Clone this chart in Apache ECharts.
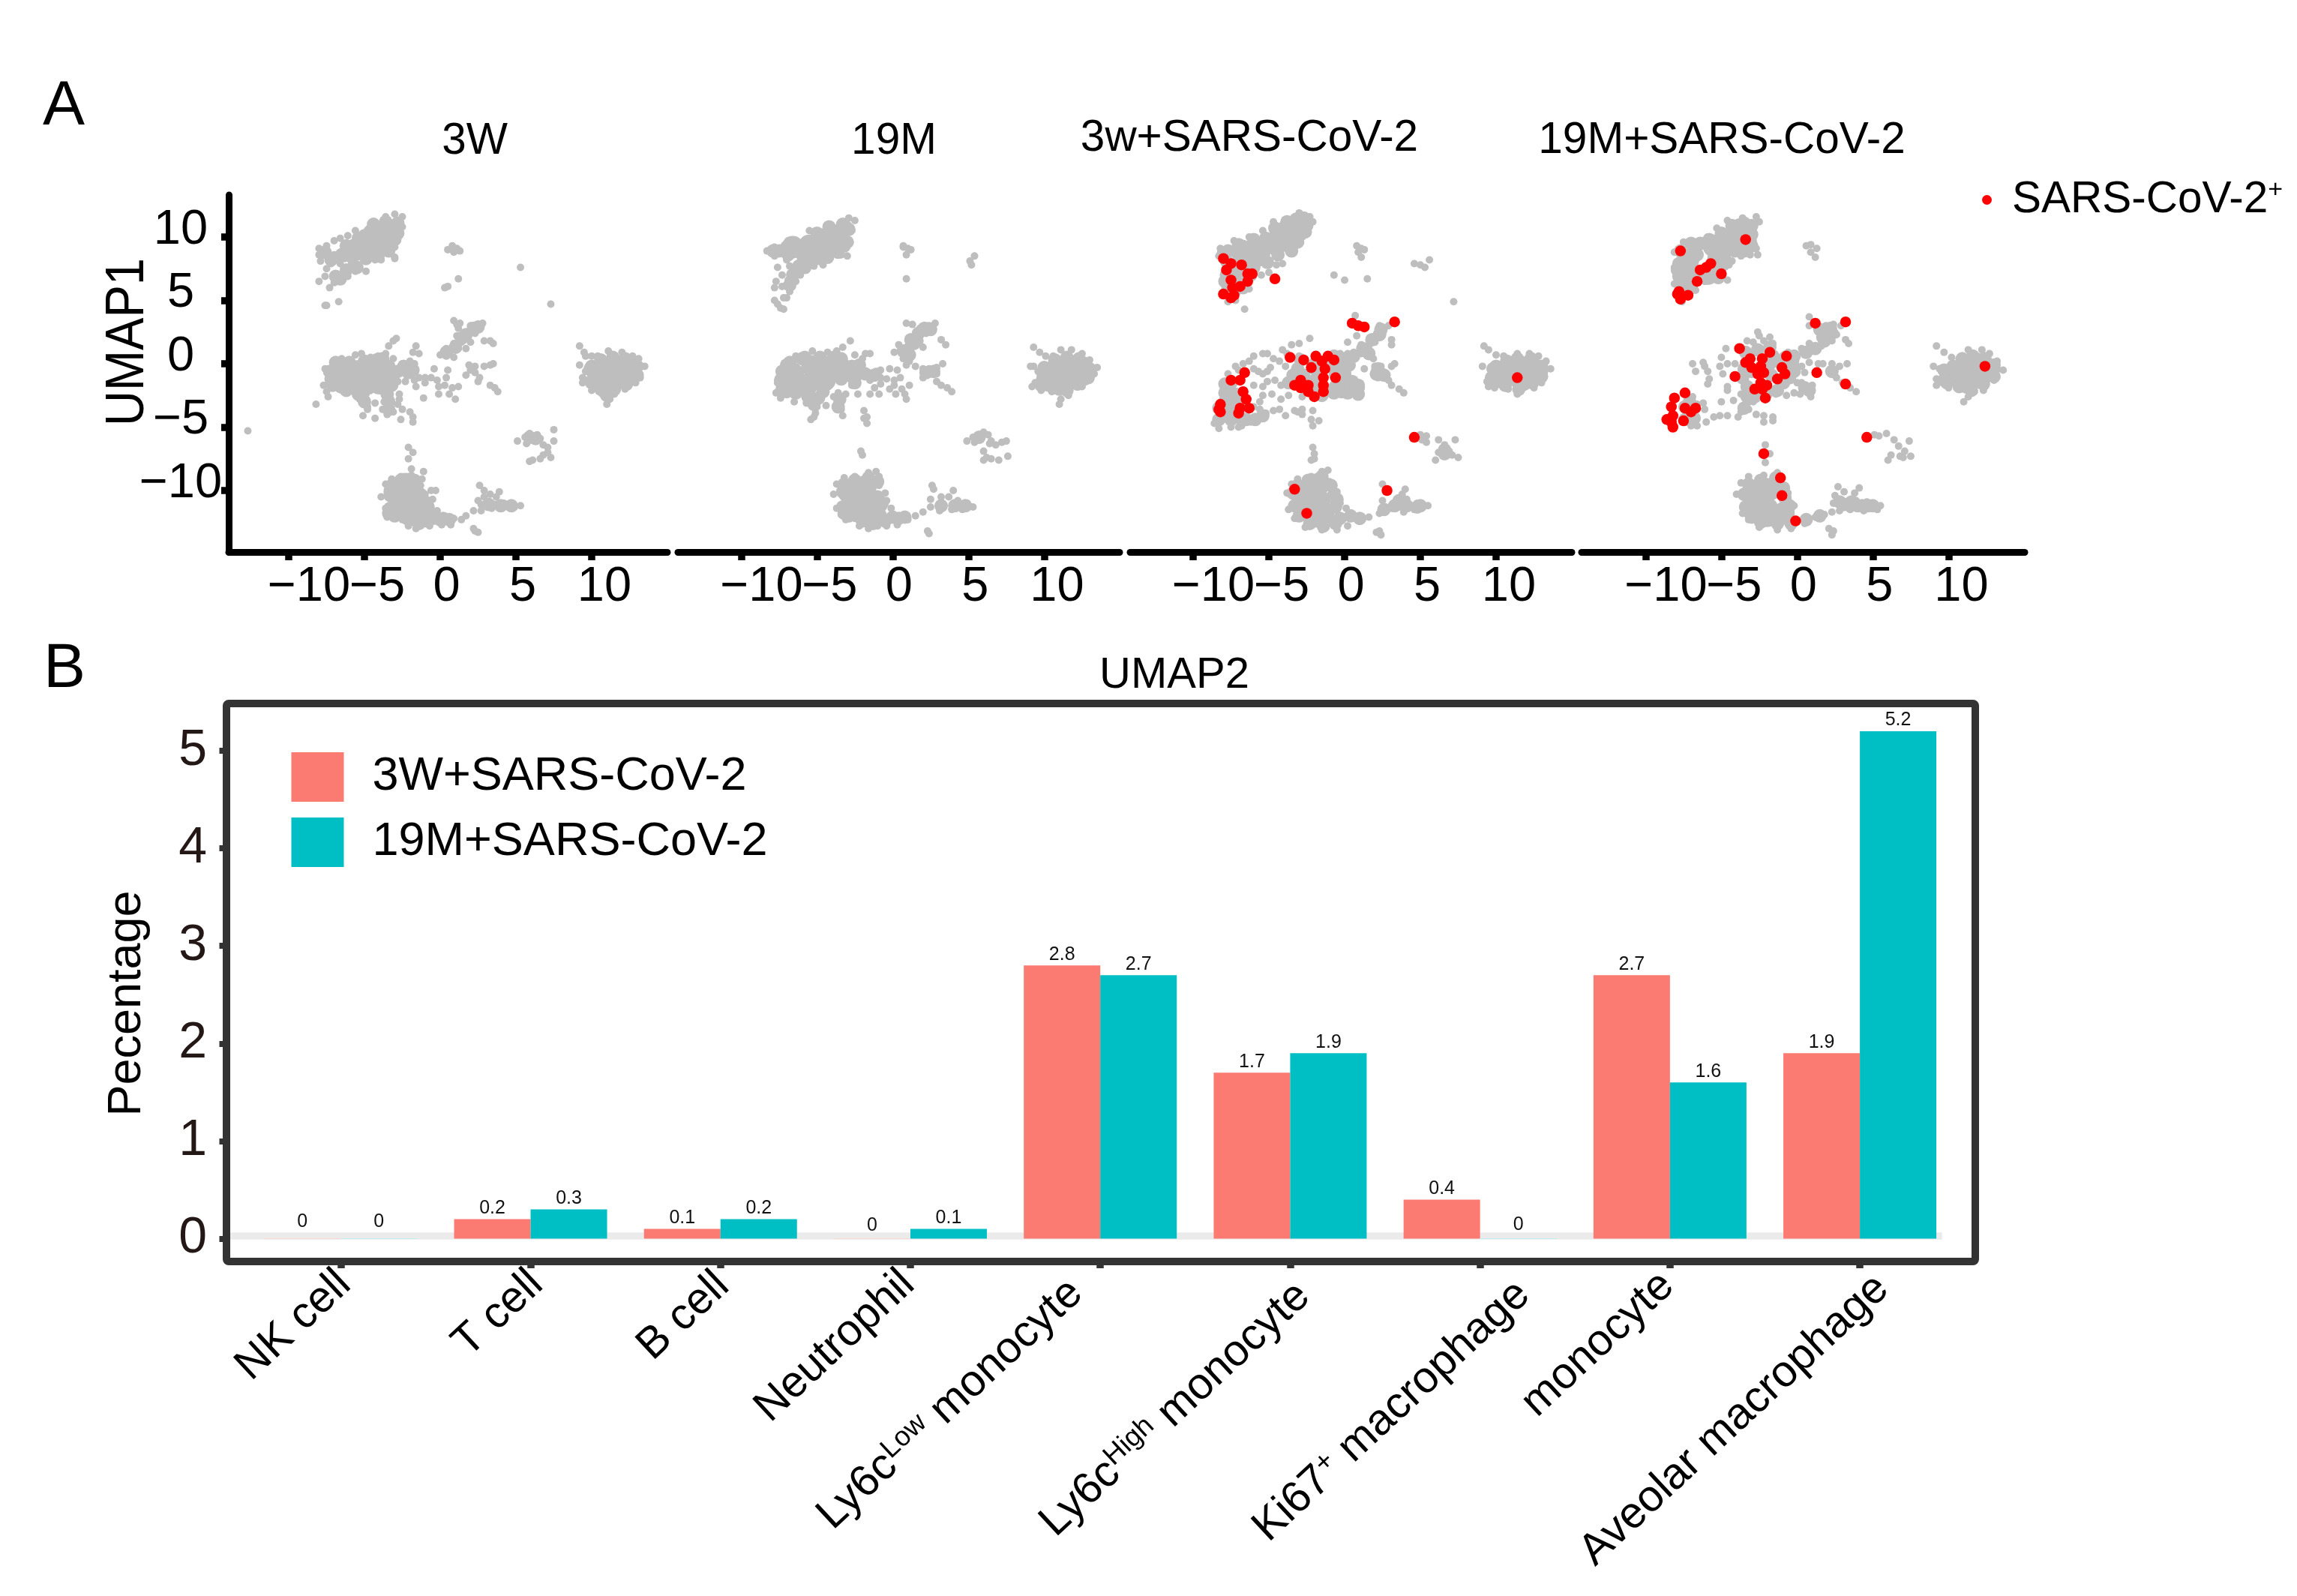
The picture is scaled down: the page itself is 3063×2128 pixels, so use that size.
<!DOCTYPE html>
<html><head><meta charset="utf-8">
<style>html,body{margin:0;padding:0;background:#fff}#c{width:3063px;height:2128px}</style>
<script src="https://cdn.jsdelivr.net/npm/echarts@6/dist/echarts.min.js"></script>
</head><body><div id="c"></div>
<script>
// ---------- UMAP points: [UMAP x, UMAP y] ----------
const p1Core=[[-4.4,10.2],[-3.3,10.5],[-4.8,9.4],[-5.6,9.0],[-4.0,9.3],[-6.7,-.6],[-5.5,-.6],[-4.2,-.4],[-6.4,-1.5],[-5.3,-1.3],[-4.0,-1.1],[10.4,-.7],[11.5,-.2],[12.4,-.2],[11.5,-1.3],[10.6,-1.4],[12.4,-.8],[-3,-10.1],[-1.9,-10.1],[-2.6,-11.4],[-1.6,-11.4],[-2.3,-9.5]];
const p1Mid=[[-2.8,11.1],[-3.2,9.6],[-5.4,9.9],[-6.2,9.3],[-4.9,8.3],[-4.1,8.5],[-5.7,7.7],[1.7,2.3],[-7.1,-.8],[-7.1,-1.7],[-6.2,-2.1],[-5.4,-2.4],[-3.8,.4],[-2.8,-.6],[-2.1,-.7],[-3.7,-1.5],[-3.5,-2.4],[9.9,-.4],[5.9,-5.8],[-1,-12.2],[-.5,-12.2],[-1.7,-12.3],[.2,-12.2],[-3.4,-11.8],[-.8,-11.3],
[-7.6,8.8],[-6.5,8.6],[-5.8,8.4],[-5.2,8.8],[-5,10.1],[-4.4,11],[-3.6,11.2],[-2.8,10.3],[-3.4,8.9],[-3,9.8],[-6.2,7.4],[-6.6,6.7],[-5.5,7.6],[-7.3,-.6],[-6.9,.1],[-6,.1],[-5,.2],[-4.2,.3],[-3.4,-.2],[-3.3,-1],[-4.7,-1.9],[-6,-1.9],[-7.2,-1.2],[-4,-1.9],[-3.2,-1.7],[-3.4,-3],[-3.4,-3.6],[-5,-3],[-5.2,-2.6],[-2.4,-.2],[-1.8,-.5],[1.4,2],[2.2,2.8],[1,1.3],[.4,.9],[10,-.2],[10.6,.3],[11.4,.5],[12.2,.4],[13,-.2],[13,-.9],[12.3,-1.6],[11.5,-2],[10.6,-2],[10,-1.5],[11,-2.5],[6.3,-5.9],[-3.3,-10.4],[-3.2,-9.6],[-2.6,-9.2],[-1.7,-9.2],[-1.3,-10.3],[-1,-10.9],[-3.3,-11.4],[-3,-12],[-2.2,-12.2],[-1.4,-12.6],[-.9,-12.4],[0,-12.3],[.6,-12.3],[4,-11.2],[4.7,-11.2],[3.2,-11.1],[2.5,2.9],[-7.2,8.2],[-6.9,6.9]];
const p1Fine=[[-3.6,11.6],[-3,11.8],[-2.5,11.6],[-2.5,10.8],[-2.8,9.9],[-3,9.2],[-3,8.4],[-3,8.3],[-3.9,8.2],[-4.3,8.2],[-5.6,10.5],[-6.1,10.1],[-6.6,9.9],[-7,9.7],[-7.5,9.3],[-8,9.1],[-8,8.6],[-7.9,8.1],[-7.5,8.5],[-7.2,7.9],[-6.9,8.3],[-6.6,7.9],[-6.3,8.3],[-7,8.6],[-6.6,8.8],[-7.5,7.5],[-7.6,6.9],[-8,6.5],[-7.3,6],[-7,6.4],[-6.6,6.6],[-6.1,6.9],[-6.2,7.4],[-5.6,7.3],[-4.9,7.3],[-7.5,4.6],[-7.6,4.6],[-6.7,4.9],
[.8,9.3],[.5,9],[.9,8.8],[1.3,8.9],[1.1,9.1],[5.3,7.6],[1.2,6.7],[.5,6.1],[.3,6],[7.3,4.7],[-12.7,-5.3],[-8.2,-3.2],
[.9,3.4],[1.3,3.2],[1.2,2.8],[1.1,3.1],[2.8,3.2],[2.5,3],[2,3],[2.3,2.4],[1.8,2.1],[2,1.7],[1.4,1.7],[.9,1.6],[.4,1.2],[0,.7],[.4,.6],[.9,.5],[1.7,1.2],[1.2,1.2],[1.1,2.2],[2.9,1.8],[3.3,1.8],[3.5,1.6],[2.9,-.2],[3.3,-.1],[3.5,0],[1.9,-.1],[2.3,-.2],[2,-.5],[1.7,-.9],[2.3,-.7],[2.6,-1.1],[2.5,-1.4],[3.3,-1.7],[3.6,-1.9],[3.8,-2.2],
[-.4,-.4],[-.6,-1.1],[-.2,-1.3],[-.1,-1.8],[-.1,-2.4],[.4,-1.1],[.5,-.5],[.3,-1.7],[.8,-1.9],[1.2,-1.8],[.6,-2.4],[1,-2.8],[-1,-1.1],[-1.6,-1.8],[-1.1,-2.7],[-1,-1.5],
[-7.5,-2.2],[-7.4,-2.6],[-7.7,-1.7],[-7.6,-.4],[-6.5,.4],[-5.6,.7],[-5.2,.8],[-4.6,.5],[-4.1,.6],[-3.6,.8],[-3.4,1.4],[-3.1,1.8],[-2.9,2],[-3.1,.4],[-1.6,1.4],[-1.8,.9],[-1.4,.8],[-2,.2],[-1.7,0],[-2.5,0],[-1.4,-1.1],[-1.7,-1.3],[-2.3,-1.4],[-2.8,-1.4],
[-4.9,-3],[-4.8,-3.4],[-5.1,-4.1],[-4.8,-3.6],[-4.3,-3.1],[-4.3,-4.3],[-3.7,-3],[-3.8,-3.6],[-3.5,-4],[-3.1,-3.8],[-2.7,-2.4],[-2.7,-2.8],[-2.8,-3.2],[-2.5,-3.6],[-2.6,-4.4],[-2,-3.8],[-1.8,-4.2],[-1.8,-4.6],[-3.3,-3],[-3.4,-2.2],[-4.9,-2.4],[-4.2,-2.1],
[13.3,-.2],[13.5,-.2],[13.1,.4],[12.7,.6],[12,.9],[11.1,1],[10.4,.6],[13.2,-1.1],[12.9,-1.5],[12.2,-2],[11.5,-2.4],[11.2,-2.8],[11,-3.2],[10.7,-2.4],[10,-2.1],[9.4,-1.5],[9.6,-1.3],[9.2,-.1],[9.6,-.6],[9.2,1.4],[9.5,.9],[9.6,.6],[10,.6],[9.4,-1.1],
[5.9,-5.5],[6.4,-5.6],[5.6,-5.8],[5.1,-6.1],[5.7,-6.3],[6,-6],[6.6,-5.9],[6.8,-6.4],[7.1,-6.6],[7.5,-6.1],[7.5,-5.2],[7.1,-7],[7.3,-7.4],[6.8,-7.2],[6.6,-7.5],[6.1,-7.6],[5.9,-7.7],
[-2.1,-6.6],[-1.8,-7],[-2.1,-7.5],[-1.9,-8.3],
[-3.9,-10.5],[-3.6,-9.5],[-3.2,-9.1],[-2.6,-8.9],[-1.9,-8.8],[-1.1,-8.5],[-1.2,-9.1],[-1.3,-9.6],[-1,-10.3],[-.9,-11],[-3.6,-11.4],[-3.5,-12.1],[-3.1,-12.1],[-2.5,-12.3],[-2.1,-12.8],[-1.6,-13],[-.7,-12.8],[-.5,-11.8],[-.2,-11.6],[.1,-12.7],[.7,-12.7],[-.6,-10],[-.3,-10],[-.5,-10.7],[.9,-12.2],[1.4,-12.3],[1.7,-12],[2.2,-11.6],[2.7,-11.6],[2.6,-9.6],[2.9,-10],[2.5,-10.8],[2.9,-10.5],[3.3,-10.3],[3.9,-10.1],[3.7,-10.5],[2.7,-11.1],[3.4,-11.4],[3.9,-11.3],[4.4,-11.2],[4.9,-11.3],[5.3,-11.2],[4.2,-11],[4.7,-11],[3.6,-11.1],[2.3,-13.2],[2.2,-13],[2.5,-13.3]];

const p2Core=[[-4.6,9.8],[-3.8,10.1],[-3.6,9.7],[-5.5,9.3],[-6.6,9.2],[-4.6,9],[-6.6,-.8],[-5.3,-.2],[-4.3,-.3],[-7,-1.5],[-5.7,-1.7],[-4.5,-1.3],[-3.4,-.4],[10.5,-.7],[11.6,-.2],[12.5,-.3],[11.4,-1.4],[10.2,-1.3],[12.5,-.9],[-2.9,-10.1],[-1.8,-9.7],[-2.7,-11.2],[-1.6,-11.4],[-1.8,-10.5]];
const p2Mid=[[-3.1,10.8],[-3.2,9.3],[-7.5,8.9],[-5.6,8.2],[-4.3,8.4],[1.7,2.4],[1.4,1.6],[-7,-.1],[-7.4,-1.3],[-7,-2.2],[-6,.4],[-5.4,-2.7],[-4.6,-2.2],[-2.3,-.8],[-2.7,-.2],[-3.4,.4],[-2.5,-1.5],[11,-2],[-.8,-12],[-1.5,-12.2],[0,-12.1],[.8,-12.1],[-2.3,-12],[-.8,-11.2],[-3.2,-11.8],
[-7.9,8.9],[-7,9.2],[-6.9,8.6],[-5.9,8.4],[-5,8.3],[-5,10.3],[-4.2,10.8],[-3.3,11],[-2.9,10.6],[-3,9.6],[-3.6,8.8],[-6.6,7],[-6.8,6.2],[-5.8,7.6],[-6.2,7.7],[-7.3,-.6],[-6.8,.1],[-5.8,.5],[-4.8,.5],[-3.9,.5],[-3.4,-1.2],[-3,-.9],[-2.6,-.6],[-2.2,-.1],[-1.8,-.8],[-7.3,-2],[-6.4,-2.3],[-5.6,-2.6],[-4.9,-2.7],[-3.5,-2.8],[-3.6,-3.4],[-5.2,-3.2],[-1.2,-.9],[2.1,2.8],[1.2,1.9],[.7,1],[1.1,.7],[1.6,1.8],[2.5,2.7],[2.2,-.7],[2.7,-.6],[10,-.3],[10.7,.3],[11.5,.5],[12.3,.4],[13,-.4],[12.9,-1.1],[12.2,-1.6],[11.5,-2.1],[10.5,-1.8],[9.8,-1.7],[9.9,-.7],[5.7,-5.8],[-3.3,-10.1],[-3.2,-9.5],[-2.5,-9.2],[-1.6,-9],[-1,-9.3],[-1,-10.5],[-.7,-11],[-3.3,-11.3],[-2.9,-12],[-2,-12.4],[-1.3,-12.6],[-.5,-12.4],[.4,-12.2],[3.2,-11.2],[4.1,-11.2],[4.8,-11.2]];
const p2Fine=[[-2.9,11.5],[-2.5,11.3],[-2.7,10.5],[-3,8.5],[-3.4,8.6],[-4.6,7.8],[-5.2,7.7],[-5.5,10.5],[-6.9,9.7],[-8.3,8.9],[-7.8,9.2],[-7.8,8.5],[-7.6,7.6],[-7,8.2],[-7.3,7],[-7.7,6.5],[-6.9,6.6],[-6.4,6.5],[-6.1,7],[-6.4,7.3],[-5.7,7.4],[-6.8,7.7],[-7.8,6],[-7.3,6.1],[-6.8,5.7],[-7.8,5],[-7.2,5.2],[-7,5.2],[-7.6,4.7],[-7.4,4.4],[-7.2,4.3],
[.7,9.3],[1,9.1],[1.2,9],[.9,8.6],[.7,9.2],[5.4,8.5],[5.1,8.1],[5.2,7.8],[.9,6.7],
[.9,3.2],[1.3,3.1],[1.8,2.8],[2.8,3.2],[2.4,3],[2.2,2.4],[1,1.4],[.4,1.5],[.1,.9],[.7,.4],[1.1,.2],[.9,-.1],[2,1.3],[3.2,1.9],[3.5,1.5],
[1.5,-.2],[2,-.4],[2.4,-.4],[2.9,-.3],[3.3,0],[2,-1.1],[2.5,-.8],[2.9,-.8],[2.9,-1.4],[3.2,-1.7],[3.6,-1.9],[3.9,-2.2],
[-7.6,-1.5],[-7.7,-2.3],[-7.4,-2.7],[-6.5,-3],[-5.7,-3.1],[-5,-3.4],[-5.1,-3.9],[-5.4,-4.4],[-5.2,-4.2],[-6.4,.6],[-5.3,1],[-4.3,.9],[-3.7,1],[-3.3,1.3],[-2.8,1.8],[-2.5,.7],[-1.8,.8],[-1.5,.8],[-2,.4],[-2,-.4],[-1.6,-.8],[-1.5,-1.3],[-.9,-.6],[-.2,-.4],[.3,-.5],[-.8,-.5],[-1.1,-.6],[-.8,-1.1],[-.4,-1.2],[.1,-1.3],[.5,-1.1],[-.8,-1.6],[-.2,-2],[.1,-1.7],[.6,-2],[1.1,-1.7],[.8,-2.4],[.9,-2.8],[.2,-2.4],[-1.2,-1.9],[-1.5,-2.4],[-.9,-2.4],[-2.3,-2.4],
[-3.6,-2.3],[-3.9,-2.6],[-3.1,-2.4],[-3.6,-3],[-4.4,-3.3],[-3.7,-3.6],[-3.4,-3.6],[-3.3,-4.1],[-1.9,-3.7],[-1.7,-4.2],[-1.9,-4.3],[-1.7,-4.7],[-2.7,-1.7],
[9.3,1.3],[9.7,.9],[10.1,.6],[9.1,-.2],[9.3,-.2],[9.4,-1.5],[9.2,-1.8],[9.8,-2.1],[10.5,-2.2],[11,-3.2],[11.1,-2.8],[11.6,-2.5],[12.5,-1.8],[13.3,-.8],[13.5,-.3],[13,.3],[12.5,.8],[11.8,1.1],[11.1,1.1],[10.6,.6],[9.6,-.6],
[4.9,-6.1],[5.3,-5.8],[6,-5.4],[6.3,-5.6],[5.4,-6.2],[6.5,-6.1],[6.8,-6.4],[7.2,-6.2],[7.5,-6.1],[6.4,-6.3],[6,-6.9],[6,-7.6],[6.5,-7.5],[7,-7.6],[7.6,-7.3],[6.2,-7.4],[-2.1,-6.9],[-2,-7.2],
[-3.9,-10.3],[-3.7,-9.5],[-3.2,-9],[-2.5,-8.9],[-1.6,-8.6],[-1.1,-8.5],[-.9,-8.9],[-.9,-9.6],[-.5,-10.2],[-.4,-10.8],[-.1,-11.4],[-3.7,-11.4],[-3.4,-11.9],[-3.1,-12.3],[-2.5,-12.2],[-2.2,-12.8],[-1.6,-13],[-1,-12.8],[-.4,-12.8],[.3,-12.7],[1,-12.3],[1.5,-12],[2,-11.7],[2.5,-11.3],[3.1,-11.6],[3.9,-11.5],[4.6,-11.5],[5.3,-11.3],[4.9,-11],[4.3,-10.8],[3.7,-10.5],[3.2,-10.5],[4,-10],[2.5,-10.7],[2.6,-9.6],[2.7,-9.9],[2.4,-13.4],[2.3,-13.2],[3.3,-11.1],[4.2,-11.2]];

const p3Core=[[-3.7,10.6],[-3.8,9.7],[-3.1,10.8],[-4.7,9.5],[-5.6,8.9],[-6.8,8.9],[-7,7.4],[-7.4,6.1],[-.3,-.8],[-1.7,-.2],[-1.9,-1.7],[-7.5,-3.4],[10.5,-.8],[11.5,-.2],[12.4,-.4],[11.7,-1.3],[-2.8,-10.1],[-1.7,-10.8],[-2.4,-11.6],[-1.4,-11.8],[-1.7,-9.5]];
const p3Mid=[[-2.7,11.5],[-2.5,10.9],[-3.1,9.6],[-4.4,8.6],[-7.7,8.9],[-7.5,5.5],[-6,7.6],[2.2,-.4],[.6,-2.1],[.9,-2.4],[.2,-2.3],[.9,-1.7],[-.7,-2.3],[-1.5,-2.5],[-2.4,-2.1],[0,.4],[-.7,.6],[-3.1,-.4],[-3.7,-1.5],[-7.9,-2.3],[-7.2,-2.4],[-8.3,-4.4],[-7.5,-4.4],[-6.8,-4.4],[-5.9,-4.4],[-5.4,-4.1],[9.8,-.4],[10.1,-1.1],[13,-.6],[6.6,-7.1],[-.8,-10.5],[-.3,-12.2],[.4,-12],[-1.9,-12.4],[4.1,-11.2],[4.8,-11.3],
[-6,9.8],[-5.2,9.9],[-4.6,10.7],[-3.8,11.2],[-3.2,11.4],[-2.6,10.4],[-3.5,8.9],[-2.9,10.2],[-6.4,8],[-5.1,8],[-6.2,7],[-7.8,8.1],[-7.8,7],[-8,8.7],[-7,9.4],[-7.9,6.5],[-6.7,6],[-5.6,8.2],[-6.1,8.7],[.5,-1.4],[.9,-1.9],[.1,-1.2],[-.6,-1.8],[-.2,-2],[-.9,-.1],[-.4,.2],[.3,-.1],[.6,.6],[1.2,1.2],[1.8,1.9],[2.4,2.7],[1.6,.8],[2.1,-.8],[2.6,-.9],[2.3,2.3],[-1.1,-2.1],[-2.9,.3],[-3.4,-.9],[-2.7,-.9],[-.2,-2.2],[-8,-4],[-7.9,-3],[-8.3,-3.5],[-7.5,-1.5],[-6.9,-2.9],[-7,-4],[-6.5,-4.4],[-7.9,-1.6],[10,-.2],[10.7,.2],[11.4,.4],[12.3,.4],[13,-.2],[13,-1],[12.4,-1.5],[11.5,-2],[10.6,-1.7],[9.9,-1.5],[9.7,-1.1],[6.6,-6.8],[-3.4,-10.2],[-3.1,-9.6],[-2.4,-9.2],[-1.5,-8.9],[-.9,-9.6],[-.5,-10.7],[-.6,-11.3],[-3.3,-11.2],[-3,-12],[-2.3,-12.6],[-1.4,-12.8],[-.6,-12.6],[1,-12.2],[2.6,-11.5],[3.3,-11.2],[3.6,-10.8],[5,-11.2]];
const p3Fine=[[-3,11.9],[-2.3,11.6],[-2.1,11.2],[-4.7,11.2],[-5.4,10.5],[-6.3,10],[-7.3,9.7],[-8.2,9.1],[-8.3,8.5],[-4.1,7.9],[-4.5,7.8],[-5,7.2],[-5.5,7],[-7.7,4.9],[-7.2,5],[-6.6,4.3],[-6.3,5.9],
[.8,9.3],[1.1,9.1],[1.3,9],[.9,8.8],[1.1,8.4],[5.6,8.2],[4.6,7.9],[5,7.8],[5.3,7.6],[-.7,7],[0,6.6],[1.5,6.7],[7.2,4.9],
[.7,3.8],[2.3,3],[2.9,3],[2.5,2.3],[2,1.7],[1.6,1.4],[.8,2.2],[1.1,1.5],[.2,1.7],[.2,.8],[-.3,.8],[.6,.9],[1.1,.8],[3.1,1.9],[3.1,1.5],[.2,.2],
[1.9,.4],[2,-.2],[2.5,-.6],[2.2,-1.1],[2.9,-1.3],[3.1,-1.7],[3.6,-2],[3.9,-2.3],[3.1,-.2],[3.3,0],[1.3,-.4],[2.4,-.2],
[-3,.6],[-2.3,2],[-3,1.6],[-3.5,1.5],[-4.1,1.1],[-3.8,.8],[-4.7,.4],[-4.3,.2],[-3.9,-.2],[-4.9,-.3],[-5.1,-.6],[-5.7,-.6],[-5.4,-.8],[-4.6,-1.3],[-5.1,-1.4],[-5.4,-1.8],[-6,-1.7],[-4.2,-1.7],[-4.8,-2.4],[-5.4,-2.5],[-3.7,-2.5],[-4.2,-2.8],[-2.8,-2.6],[-4.7,-3.7],[-4.3,-3.6],[-3.9,-4.1],[-3.3,-3.7],[-2.8,-3.6],[-2.8,-4],[-2.1,-3.7],[-1.7,-4.5],[-2.1,-4.9],[-2.2,-4.4],[-3.1,-3.8],
[-6,.6],[-5.4,.8],[-5.1,.8],[-6.3,.2],[-6.7,0],[-7.2,-.2],[-7,-.5],[-7.7,-.8],[-8.3,-5.1],[-8.6,-4.7],[-7.5,-5],[-7,-5],[-6.8,-4.9],[-6.2,-4.6],[-5.6,-3],[-6,-3.4],[-6,-.4],[-5.6,-3.6],[-5.2,-3.9],
[9.2,1.4],[9.5,1.1],[10,.7],[9.1,-.2],[9.5,-1.8],[9.4,-1.4],[9.9,-1.9],[11.4,-2.4],[12.5,-1.9],[13,-1.5],[13.6,-.4],[13.3,.2],[12.8,.6],[12.2,.8],[11.4,.8],[10.5,.6],[10.8,-2],
[5,-5.6],[5.4,-5.7],[5.4,-6.2],[5.1,-6],[7.3,-6],[6.2,-6],[6.6,-6.4],[6.9,-6.9],[7.5,-7.4],[6,-7.6],[6.2,-7],[7.1,-7.2],[-2.1,-6.6],[-2,-7.1],[-2.2,-7.6],[-2,-7.5],
[-3.8,-10.2],[-3.5,-9.5],[-3.1,-9.1],[-2.2,-8.9],[-1.5,-8.5],[-1.1,-8.4],[-1,-9.3],[-.5,-10.1],[-.3,-11],[.1,-11.4],[-3.7,-11.5],[-3.3,-12.2],[-2.6,-12.9],[-1.5,-13.1],[-.5,-13.1],[.2,-12.8],[.9,-12.4],[1.6,-12.1],[2.3,-11.8],[3.1,-11.4],[3.9,-11.7],[4.6,-11.5],[5.5,-11.2],[4.8,-11],[4.1,-10.7],[4,-9.9],[3.8,-10.3],[2.5,-9.5],[2.5,-10.8],[3.4,-10.8],[3.6,-11.3],[2.3,-13.2],[2.4,-13.5],[2.1,-13.3]];
const p3Red=[[-8,8.3],[-7.5,7.9],[-7.8,7.4],[-6.8,7.8],[-6.1,7.1],[-6.4,7.1],[-6.4,6.5],[-7.5,6.6],[-6.9,6.1],[-7.4,6],[-8,5.5],[-7.5,5.2],[-7.3,5.4],[-4.6,6.7],[.5,3.2],[.9,3],[1.3,2.9],[3.3,3.3],[-3.6,.5],[-2.7,.3],[-1.9,.6],[-1.1,.6],[-.7,.3],[-1.5,.2],[-2.2,-.3],[-1.3,-.4],[-.6,-1.1],[-1.4,-1.1],[-1.4,-1.7],[-1.4,-2.2],[-2,-2.6],[-2.4,-2.2],[-2.4,-1.7],[-2.9,-1.3],[-3.3,-1.7],[-2.9,-1.9],[-7.5,-1.3],[-6.9,-1.3],[-6.6,-.7],[-6.7,-2.2],[-6.5,-2.8],[-6.3,-3.5],[-6.9,-3.5],[-7,-3.9],[-8.2,-3.2],[-8.3,-3.6],[-8.2,-3.8],[4.6,-5.8],[11.4,-1.1],[-3.3,-9.9],[-2.5,-11.8],[2.8,-10]];

const p4Core=[[-3.7,10.6],[-4.6,9.7],[-5.5,9.3],[-3.4,9.7],[-7.2,8.2],[-7.2,7],[-5.2,8.2],[-5.9,7.1],[-.6,.2],[10.7,-.7],[11.8,0],[12.2,-.8],[11.3,-1.5],[-2.9,-10.1],[-3,-11.4],[-2,-11.4],[-1.8,-9.9],[-.9,-11.8],[-2,-12]];
const p4Mid=[[-3,10.9],[-7.7,8.9],[-6.7,9.2],[-4.1,8.9],[-5.2,7.2],[-7.6,6.1],[1.7,2.1],[-1.3,.2],[-1.6,.6],[-.2,-.6],[-.2,.6],[-.9,-1.5],[-2,-2.3],[-3,-.6],[-3.6,-1.1],[-7.4,-3.4],[10,-.8],[9.7,-1.3],[13,-.4],[3.1,-11.1],[4,-11.2],[4.7,-11.2],
[-7.8,7.9],[-7.8,6.9],[-7.9,7.4],[-6.6,8.6],[-7,6],[-5,10.3],[-4.3,10.9],[-3.5,11.1],[-3,10.2],[-3,9.3],[-3.5,8.9],[-4.8,8.4],[-5.8,9.8],[-6.4,9.5],[-7,9.5],[-4.9,7.8],[-5.2,6.8],[.6,.9],[1.2,1.2],[1.8,1.8],[2.3,2.4],[2.2,2.8],[1.5,2.7],[-.3,-.2],[-.5,-1.1],[.5,-1.9],[.8,-2.1],[-1.3,-2.1],[-1.7,-.9],[-1.9,-.2],[-2.8,-2.6],[-3.3,-1.8],[-3.3,-2.6],[-3.5,-3.5],[2.3,-.6],[-3.4,.9],[-2.6,1.1],[-1.8,1.3],[-3.5,-.4],[-7.4,-4.4],[-6.8,-4.3],[-7.1,-3],[10.3,-.2],[10.9,.4],[11.6,.6],[12.4,.4],[13,-.1],[13,-1],[12.3,-1.6],[11.5,-2.1],[10.7,-1.8],[9.9,-1.5],[9.7,-.5],[-3.5,-10.3],[-3.2,-9.5],[-2.4,-9.2],[-1.4,-9],[-.9,-9.8],[-.8,-10.6],[-.5,-11.2],[-3.4,-11.3],[-3,-12.1],[-2.4,-12.5],[-1.3,-12.6],[-.4,-12.6],[.6,-12.3],[3,-11.1],[3.6,-10.9],[2.8,-10.9],[3.5,-11.2],[4.3,-11.2],[5,-11.2],[1.5,-12]];
const p4Fine=[[-2.7,11.6],[-2.5,11.2],[-3.6,11.5],[-4.6,11.3],[-5.3,10.7],[-5.9,10],[-6.9,9.6],[-7.5,9.6],[-8.1,8.8],[-8.1,7.6],[-8.1,6.3],[-2.7,9.1],[-2.6,8.6],[-3.1,8.6],[-3.7,8.5],[-4.3,8.1],[-4.6,6.6],[-4.5,7.8],[-6.1,6.5],[-6.7,5.8],[-7.6,4.9],
[.6,9.3],[.9,9.4],[1.3,9.1],[.9,8.8],[1.2,8.4],
[.8,3.7],[.8,3],[1.4,2.7],[1.9,3],[2.4,3.1],[2.9,3],[2.6,2.3],[2.3,1.8],[1.6,1.4],[.8,1.6],[.3,1.2],[-.6,.9],[3.2,1.9],[3.4,1.6],
[1.7,0],[2.3,0],[2.8,-.2],[3.3,0],[2.1,-.6],[2.6,-1.1],[3,-1.5],[3.5,-1.9],[3.9,-2.2],[.8,.1],[1.4,0],
[0,-1.5],[.3,-1.5],[1,-1.7],[.7,-2.1],[.2,-2.4],[.9,-2.6],[-.2,-2.3],[-.7,-2.5],[-1.4,-2.4],[.5,-.7],[.3,-.2],
[-2.6,2.5],[-2.5,2.2],[-1.8,2.1],[-1.6,1.6],[-2.2,1.8],[-2.9,1.7],[-3.3,1.8],[-4.7,1.2],[-5,.5],[-4.6,0],[-5.1,-.2],[-4.9,-.8],[-6.9,0],[-6.2,.1],[-6.1,-.2],[-5.9,-.6],[-6.7,-.6],[-5.8,-1.2],[-5.9,-1.6],[-4.6,-1.8],[-4.6,-2.1],[-4.1,0],[-4.2,-2.9],[-5,-3],[-3.7,-2.4],[-3.5,-3.4],[-3.7,-3.8],[-3.9,-4.2],[-3.2,-3.6],[-2.7,-4],[-2.2,-4.1],[-2.2,-4.6],[-1.6,-4.2],[-1.6,-4.5],[-4.6,-4.1],[-5.1,-4.1],[-5.5,-4.2],[-6,-4.6],[-6.6,-4.9],[-7,-4.9],[-6.2,-3.1],[-6.1,-3.6],[-6.9,-2.6],[-6.6,-3.2],[-3.2,-3],[-2.9,-3],
[9.2,1.4],[9.7,.9],[10.2,.5],[9,-.2],[9.4,-.4],[9.2,-1.2],[9.2,-1.7],[10,-1.9],[11,-3],[11.3,-2.6],[11.7,-2.2],[12.3,-1.9],[13,-1.3],[13.6,-.5],[13.2,.2],[12.7,.8],[12.2,1.1],[11.3,1.1],[10.7,.4],[10.7,-1.9],[12.3,-2.1],
[5.1,-5.6],[5.4,-5.7],[5.9,-5.5],[6.4,-6],[7.4,-6.1],[6.7,-6.5],[7.1,-6.9],[7.5,-7.3],[6,-7.6],[6.2,-7.2],[6.8,-7.3],[7,-7.4],[-2.1,-6.4],[-1.8,-7.1],[-2.1,-7.8],
[-4,-10.3],[-3.7,-9.4],[-3.2,-8.9],[-2.2,-8.8],[-1.3,-8.6],[-1.1,-9.6],[-.6,-10.2],[-.7,-10.8],[-.2,-11.2],[-3.6,-11.8],[-3.2,-12.3],[-2.5,-12.9],[-1.3,-13.1],[-.4,-13],[.5,-12.6],[1.2,-12.1],[1.8,-11.9],[2.3,-11.7],[2.7,-9.7],[3.1,-10.1],[4.1,-9.8],[3.8,-10.2],[2.5,-10.4],[2.4,-11],[3,-10.8],[3.9,-10.8],[4.6,-10.9],[5.1,-11.1],[5.5,-11.2],[5.3,-11.5],[4.4,-11.6],[3.5,-11.5],[2.8,-11.6],[2.1,-13],[2.4,-13.2],[2.3,-13.5]];
const p4Red=[[-7.7,8.9],[-3.4,9.8],[-6.4,7.4],[-6,7.6],[-5.7,7.9],[-5,7.1],[-6.6,6.5],[-7.8,5.7],[-7.9,5.5],[-7.2,5.4],[-7.7,5.1],[1.2,3.2],[3.2,3.3],[-3.8,1.2],[-1.8,.9],[-.7,.6],[-2.3,.4],[-3.1,.4],[-3.4,.1],[-3,-.3],[-2.6,-.8],[-2.2,-.7],[-1,-.3],[-.8,-.8],[-1.3,-1.2],[-4.1,-1],[1.3,-.7],[3.2,-1.6],[-2.4,-1.5],[-2,-1.7],[-2.8,-2],[-2.3,-2],[-2.1,-2.7],[-2.4,-.2],[-7.4,-2.3],[-8.1,-2.7],[-8.3,-3.4],[-7.4,-3.5],[-6.7,-3.5],[-7,-3.8],[-8.6,-4.4],[-8.2,-4.1],[-7.5,-4.5],[-8.2,-5],[-8.3,-4.6],[4.6,-5.8],[12.4,-.2],[-2.2,-7.1],[-1.1,-9],[-1,-10.4],[-.1,-12.4]];

// ---------- panel titles and tick values ----------
const panelTitles=['3W','19M','3w+SARS-CoV-2','19M+SARS-CoV-2'];
const umapTicks=[-10,-5,0,5,10];
// ---------- bar chart ----------
const categories=['NK cell','T cell','B cell','Neutrophil','Ly6cLow monocyte','Ly6cHigh monocyte','Ki67+ macrophage','monocyte','Aveolar macrophage'];
const seriesNames=['3W+SARS-CoV-2','19M+SARS-CoV-2'];
const values3W=[0,0.2,0.1,0,2.8,1.7,0.4,2.7,1.9];
const values19M=[0,0.3,0.2,0.1,2.7,1.9,0,1.6,5.2];
const pctTicks=[0,1,2,3,4,5];

// ---------- layout and styling (not data) ----------
const FONT='"Liberation Sans",Arial,sans-serif';
const GREY='#bebebe', RED='#ff0000', SALMON='#fb7a71', TEAL='#00bfc4', FRAME='#333333';
const panels=[
 {l:305,r:890,x0:587,core:p1Core,mid:p1Mid,fine:p1Fine,red:null,tx:633,ty:189},
 {l:904,r:1493,x0:1190.4,core:p2Core,mid:p2Mid,fine:p2Fine,red:null,tx:1192,ty:189},
 {l:1507,r:2096,x0:1793,core:p3Core,mid:p3Mid,fine:p3Fine,red:p3Red,tx:1666,ty:185},
 {l:2109,r:2700,x0:2396.4,core:p4Core,mid:p4Mid,fine:p4Fine,red:p4Red,tx:2296,ty:188}
];
const PXU=20.2, Y0=485, PYU=16.9, TOP=260, BOT=736;
const barZero=1651.5, barU=130.1, barTop=938, barBot=1682;
const barYMin=(barZero-barBot)/barU, barYMax=(barZero-barTop)/barU;
const labelPadX={'-10':54,'-5':34,'0':17,'5':18,'10':34};
const richX={blank:{fontSize:1}}; for(const k in labelPadX){richX['t'+labelPadX[k]]={fontFamily:FONT,fontSize:65,color:'#000',padding:[0,0,0,labelPadX[k]]};}
const zeroLift=[[-7,-7],null,null,[-2],null,null,[null,-3]];
const zeroLine=['#fcd9d5','#bfeef0'];
const catShift=[[5,22],[8,22],[3,24],[-3,22],[-32,34],[18,38],[58,36],[-3,24],[30,28]];
const catText={'Ly6cLow monocyte':'Ly6c{s|Low} monocyte','Ly6cHigh monocyte':'Ly6c{s|High} monocyte','Ki67+ macrophage':'Ki67{s|+} macrophage'};

const grids=[],xAxes=[],yAxes=[],series=[];
panels.forEach((p,i)=>{
  const xMin=(p.l-p.x0)/PXU;
  // a blank first entry keeps the tightly set -10 and -5 labels from being treated as a min-label collision
  const xLabelValues=[xMin+0.01,...umapTicks];
  grids.push({left:p.l,top:TOP,width:p.r-p.l,height:BOT-TOP});
  xAxes.push({type:'value',gridIndex:i,min:xMin,max:(p.r-p.x0)/PXU,splitLine:{show:false},
    axisLine:{show:true,onZero:false,lineStyle:{color:'#000',width:9}},
    axisTick:{show:true,customValues:umapTicks,length:11,lineStyle:{color:'#000',width:9.5}},
    axisLabel:{show:true,customValues:xLabelValues,margin:15,hideOverlap:false,
      formatter:v=>labelPadX[String(v)]===undefined?'{blank| }':'{t'+labelPadX[String(v)]+'|'+String(v).replace('-','\u2212')+'}',rich:richX}});
  yAxes.push({type:'value',gridIndex:i,min:(Y0-BOT)/PYU,max:(Y0-TOP)/PYU,show:i===0,splitLine:{show:false},
    axisLine:{show:true,onZero:false,lineStyle:{color:'#000',width:9}},
    axisTick:{show:true,customValues:umapTicks,length:10,lineStyle:{color:'#000',width:9.5}},
    axisLabel:{show:true,customValues:umapTicks,margin:64,align:'center',hideOverlap:false,showMinLabel:true,showMaxLabel:true,
      formatter:v=>'{a|'+String(v).replace('-','\u2212')+'}',
      rich:{a:{fontFamily:FONT,fontSize:65,color:'#000',padding:[0,0,18,0]}}}});
  [['core',30],['mid',18],['fine',10]].forEach(([k,s])=>series.push({type:'scatter',name:'cells',xAxisIndex:i,yAxisIndex:i,data:p[k],symbolSize:s,silent:true,itemStyle:{color:GREY,opacity:1},z:2}));
  if(p.red) series.push({type:'scatter',name:'SARS-CoV-2+',xAxisIndex:i,yAxisIndex:i,data:p.red,symbolSize:14.5,silent:true,itemStyle:{color:RED,opacity:1},z:5});
});

// bar panel
const BI=4;
grids.push({left:327.7,top:barTop,width:2279,height:barBot-barTop});
xAxes.push({type:'category',gridIndex:BI,data:categories,splitLine:{show:false},
  axisLine:{show:false,onZero:false},axisLabel:{show:false},
  axisTick:{show:true,alignWithLabel:true,length:9,lineStyle:{color:FRAME,width:9.5}}});
yAxes.push({type:'value',gridIndex:BI,min:barYMin,max:barYMax,offset:25.7,splitLine:{show:false},
  axisLine:{show:false,onZero:false},
  axisTick:{show:true,customValues:pctTicks,length:9.5,lineStyle:{color:FRAME,width:8}},
  axisLabel:{show:true,customValues:pctTicks,margin:26,showMinLabel:true,showMaxLabel:true,fontFamily:FONT,fontSize:68,color:'#231815',formatter:v=>String(v)}});

// pale band along the baseline, drawn under the bars
series.push({type:'custom',xAxisIndex:BI,yAxisIndex:BI,silent:true,z:1,data:[[0,-0.009,0.063]],
  renderItem(params,api){
    const cs=params.coordSys, y1=api.coord([0,api.value(2)])[1], y2=api.coord([0,api.value(1)])[1];
    return {type:'rect',shape:{x:cs.x-21,y:y1,width:cs.width+21-17,height:y2-y1},style:{fill:'#ebebeb'}};
  }});
function barSeries(name,vals,color,idx){
  return {type:'bar',name,xAxisIndex:BI,yAxisIndex:BI,barWidth:102,barGap:'0%',z:3,silent:true,itemStyle:{color},
    label:{show:true,position:'top',distance:2,fontFamily:FONT,fontSize:25,color:'#111'},
    data:vals.map((v,i)=>{
      if(v!==0) return v;
      const lift=(zeroLift[i]||[])[idx];
      return {value:0,itemStyle:{color:zeroLine[idx],borderColor:zeroLine[idx],borderWidth:1},label:{offset:[0,lift||0],color:'#111'}};
    })};
}
series.push(barSeries(seriesNames[0],values3W,SALMON,0));
series.push(barSeries(seriesNames[1],values19M,TEAL,1));

// rotated category labels, placed from the category scale
series.push({type:'custom',xAxisIndex:BI,yAxisIndex:BI,silent:true,z:6,
  data:categories.map((c,i)=>[i,barYMin]),
  renderItem(params,api){
    const i=params.dataIndex, pt=api.coord([api.value(0),api.value(1)]), sh=catShift[i];
    const c=categories[i];
    return {type:'text',x:pt[0]+sh[0],y:pt[1]+sh[1],rotation:43*Math.PI/180,
      style:{text:catText[c]||c,align:'right',verticalAlign:'middle',fontFamily:FONT,fontSize:58.5,fill:'#000',
        rich:{s:{fontFamily:FONT,fontSize:37,verticalAlign:'top',fill:'#000',color:'#000'}}}};
  }});

const titleAt=(text,x,y,size)=>({text,left:x,top:y,padding:0,textAlign:'center',textVerticalAlign:'middle',
  textStyle:{fontFamily:FONT,fontWeight:'normal',fontSize:size,color:'#000'}});
const option={
  animation:false,backgroundColor:'#fff',textStyle:{fontFamily:FONT},
  title:[titleAt('A',85,143,84),titleAt('B',86,893,84),titleAt('UMAP2',1566,901,58),
    ...panels.map((p,i)=>titleAt(panelTitles[i],p.tx,p.ty,58.5))],
  legend:[
    {data:['SARS-CoV-2+'],padding:0,left:2643,top:237,icon:'circle',itemWidth:13,itemHeight:13,selectedMode:false,
     formatter:()=>'SARS-CoV-2{s|+}',
     textStyle:{fontFamily:FONT,fontSize:58.5,color:'#000',padding:[0,0,0,22],rich:{s:{fontFamily:FONT,fontSize:34,verticalAlign:'top',color:'#000'}}}},
    {data:[{name:seriesNames[0],textStyle:{padding:[0,0,0,33]}},{name:seriesNames[1],textStyle:{padding:[34,0,0,33]}}],
     orient:'vertical',padding:0,left:388.5,top:1003,icon:'rect',itemWidth:70,itemHeight:66,itemGap:21,selectedMode:false,
     textStyle:{fontFamily:FONT,fontSize:63,lineHeight:20,color:'#000'}}
  ],
  grid:grids,xAxis:xAxes,yAxis:yAxes,series,
  graphic:[
    {type:'rect',silent:true,z:10,shape:{x:302,y:938,width:2332,height:744,r:3},style:{fill:'none',stroke:FRAME,lineWidth:10}},
    {type:'text',silent:true,z:10,x:171,y:456,rotation:Math.PI/2,scaleY:1.1,style:{text:'UMAP1',align:'center',verticalAlign:'middle',fontFamily:FONT,fontSize:65,fill:'#000'}},
    {type:'text',silent:true,z:10,x:170,y:1338,rotation:Math.PI/2,style:{text:'Pecentage',align:'center',verticalAlign:'middle',fontFamily:FONT,fontSize:63,fill:'#000'}}
  ]
};
echarts.init(document.getElementById('c'),null,{renderer:'canvas',width:3063,height:2128}).setOption(option);
</script></body></html>
